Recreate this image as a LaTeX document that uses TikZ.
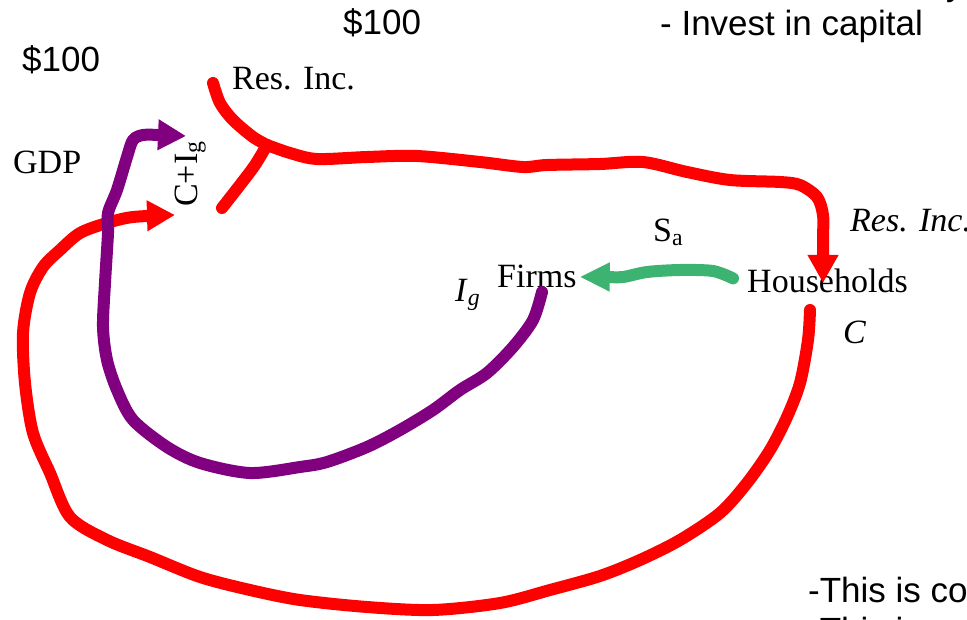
\documentclass[tikz,border=0pt]{standalone}
\usepackage{fontspec}
\setmainfont{Liberation Serif}
\newfontfamily\slidefont{Liberation Sans}
\usepackage{xcolor}
\usetikzlibrary{arrows.meta}
\definecolor{flowred}{RGB}{255,0,0}
\definecolor{flowpurple}{RGB}{128,0,128}
\definecolor{flowgreen}{RGB}{60,179,113}

\begin{document}
\begin{tikzpicture}[x=1pt, y=-1pt,
  lbl/.style={inner sep=0pt, anchor=base west, font=\fontsize{34}{40}\selectfont},
  slide/.style={inner sep=0pt, anchor=base west, font=\slidefont\fontsize{35}{40}\selectfont},
  flow/.style={line width=12pt, line cap=round, line join=round},
  head/.style={-{Triangle[length=28pt,width=29pt]}}]
\useasboundingbox (0,0) rectangle (967,620);
\clip (0,0) rectangle (967,620);

% slide text round the diagram
\node[slide] (prev) at (946,-4) {y};
\node[slide] (money1) at (22,72) {\$100};
\node[slide] (money2) at (343,35) {\$100};
\node[slide] (invest) at (660,36) {- Invest in capital};
\node[slide] (note1) at (808,602) {-This is co};
\node[slide] (note2) at (808,642) {-This i};

% labels of the circular flow
\node[lbl] (resinc) at (232,90) {Res. Inc.};
\node[lbl] (gdp) at (13,174) {GDP};
\node[lbl, rotate=90] (cig) at (197,207) {C+I\textsubscript{g}};
\node[lbl] (resinc2) at (850,232) {\textit{Res. Inc.}};
\node[lbl] (sa) at (653,242) {S\textsubscript{a}};
\node[lbl] (firms) at (497,288) {Firms};
\node[lbl] (hh) at (747,293) {Households};
\node[lbl] (cons) at (843,344) {\textit{C}};
\node[lbl] (ig) at (455,302) {\textit{I}\textsubscript{\textit{g}}};

\coordinate (jn) at (267,145);
\coordinate (hhin) at (823,283);
\coordinate (hhout) at (810,310);
\coordinate (gdpin) at (175,215);
\coordinate (gdpin2) at (186,136);
\coordinate (firmsout) at (542,292);

% residual income
\draw[flow, flowred] plot[smooth, tension=0.5] coordinates {(213,83) (220,103) (233,120) (253,137) (jn)};
\draw[flow, flowred] plot[smooth, tension=0.5] coordinates {(jn) (255,165) (240,185) (222,208)};
\draw[flow, flowred, head] plot[smooth, tension=0.5] coordinates {(jn) (290,153) (317,159) (367,157) (417,156) (480,162) (523,167) (547,165) (600,164) (643,162) (687,172) (730,180) (780,182) (800,185) (817,197) (823,215) (823,240) (hhin)};

% consumption
\draw[flow, flowred, head] plot[smooth, tension=0.5] coordinates {(hhout) (808,340) (800,383) (787,417) (770,450) (747,483) (720,513) (680,540) (640,560) (600,576) (550,590) (500,603) (433,610) (367,607) (300,600) (250,590) (200,577) (150,557) (107,540) (70,517) (50,473) (33,433) (25,383) (23,333) (30,293) (43,267) (60,250) (80,233) (107,223) (133,217) (gdpin)};

% gross investment
\draw[flow, flowpurple, head] plot[smooth, tension=0.5] coordinates {(firmsout) (533,320) (513,347) (487,373) (460,390) (433,410) (400,430) (367,447) (327,462) (300,467) (250,473) (200,463) (167,447) (133,420) (117,390) (107,360) (103,327) (105,283) (108,233) (108,213) (117,190) (127,157) (133,140) (143,135) (160,135) (gdpin2)};

% savings
\draw[line width=12pt, line cap=round, flowgreen, -{Triangle[length=30pt,width=27pt]}] plot[smooth, tension=0.5] coordinates {([xshift=-14pt,yshift=3pt]hh.west) (713,271) (680,270) (647,272) (623,277) (605,277) ([xshift=3pt]firms.east)};
\end{tikzpicture}
\end{document}
